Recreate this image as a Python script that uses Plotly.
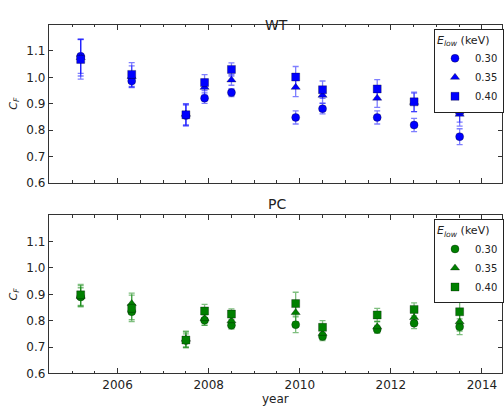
import plotly.graph_objects as go

years = [2005.19, 2006.31, 2007.50, 2007.91, 2008.50, 2009.91, 2010.50, 2011.70, 2012.51, 2013.51]

wt_030 = [1.080, 0.986, 0.855, 0.921, 0.942, 0.848, 0.881, 0.848, 0.819, 0.775]
wt_035 = [1.075, 1.003, 0.860, 0.962, 0.990, 0.962, 0.932, 0.921, 0.905, 0.860]
wt_040 = [1.068, 1.011, 0.858, 0.980, 1.030, 1.001, 0.953, 0.956, 0.907, 0.875]
wt_030_err = [0.065, 0.025, 0.040, 0.020, 0.015, 0.025, 0.020, 0.025, 0.025, 0.030]
wt_035_err = [0.070, 0.040, 0.040, 0.030, 0.020, 0.035, 0.030, 0.035, 0.035, 0.045]
wt_040_err = [0.075, 0.045, 0.040, 0.030, 0.025, 0.040, 0.033, 0.035, 0.037, 0.045]

pc_030 = [0.890, 0.834, 0.725, 0.802, 0.783, 0.785, 0.740, 0.767, 0.790, 0.777]
pc_035 = [0.893, 0.865, 0.730, 0.808, 0.800, 0.831, 0.752, 0.777, 0.812, 0.796]
pc_040 = [0.898, 0.847, 0.727, 0.837, 0.825, 0.865, 0.775, 0.822, 0.843, 0.834]
pc_030_err = [0.035, 0.030, 0.025, 0.020, 0.015, 0.030, 0.015, 0.015, 0.020, 0.030]
pc_035_err = [0.040, 0.040, 0.030, 0.025, 0.020, 0.035, 0.020, 0.020, 0.025, 0.035]
pc_040_err = [0.040, 0.050, 0.030, 0.025, 0.020, 0.043, 0.025, 0.025, 0.025, 0.040]

labels = ["0.30", "0.35", "0.40"]
symbols = ["circle", "triangle-up", "square"]

fig = go.Figure()

panels = [
    ("x", "y", "legend", "#0000ff", "rgba(0,0,255,0.5)",
     [wt_030, wt_035, wt_040], [wt_030_err, wt_035_err, wt_040_err]),
    ("x2", "y2", "legend2", "#008000", "rgba(0,128,0,0.5)",
     [pc_030, pc_035, pc_040], [pc_030_err, pc_035_err, pc_040_err]),
]

for xa, ya, lg, col, ecol, series, errs in panels:
    for lab, sym, vals, err in zip(labels, symbols, series, errs):
        fig.add_trace(go.Scatter(
            x=years, y=vals, mode="markers", name=lab,
            xaxis=xa, yaxis=ya, legend=lg,
            marker=dict(symbol=sym, size=8, color=col,
                        line=dict(color="rgba(0,0,0,0.6)", width=0.5)),
            error_y=dict(type="data", array=err, visible=True,
                         color=ecol, thickness=1.3, width=3),
        ))

font = dict(family="DejaVu Sans", size=12, color="#222222")
H = 407.0
W = 504.0

axis_common = dict(
    showline=True, linecolor="#333333", linewidth=1, mirror="ticks",
    ticks="inside", tickcolor="#333333", showgrid=False, zeroline=False,
    tickfont=font,
)

xcommon = dict(axis_common, range=[2004.49, 2014.44], dtick=2, tick0=2000, ticklen=5,
               minor=dict(dtick=0.5, tick0=2000, ticklen=2.5, ticks="inside",
                          tickcolor="#333333", showgrid=False))
ycommon = dict(axis_common, range=[0.6, 1.2], tickvals=[0.6, 0.7, 0.8, 0.9, 1.0, 1.1],
               ticktext=["0.6", "0.7", "0.8", "0.9", "1.0", "1.1"], ticklen=4)

ytitle = dict(text="<i>C<sub>F</sub></i>",
              font=dict(family="DejaVu Sans", size=11, color="#222222"), standoff=6)

legend_common = dict(
    bgcolor="white", bordercolor="#222222", borderwidth=1,
    font=dict(family="DejaVu Sans", size=10, color="#222222"),
    title=dict(text="<i>E<sub>low</sub></i> (keV)",
               font=dict(family="DejaVu Sans", size=11, color="#222222")),
    xanchor="left", yanchor="top", tracegroupgap=0, itemwidth=30,
)

fig.update_layout(
    width=504, height=407,
    margin=dict(l=0, r=0, t=0, b=0),
    paper_bgcolor="white", plot_bgcolor="white",
    showlegend=True,
    xaxis=dict(xcommon, domain=[49 / W, 1.0], anchor="y", showticklabels=False),
    yaxis=dict(ycommon, domain=[1 - 186 / H, 1 - 25 / H], anchor="x", title=ytitle),
    xaxis2=dict(xcommon, domain=[49 / W, 1.0], anchor="y2",
                title=dict(text="year", font=font, standoff=2)),
    yaxis2=dict(ycommon, domain=[1 - 380 / H, 1 - 219 / H], anchor="x2", title=ytitle),
    legend=dict(legend_common, x=436 / W, y=1 - 29 / H),
    legend2=dict(legend_common, x=436 / W, y=1 - 223 / H),
    annotations=[
        dict(text="WT", x=278 / W, y=1 - 15 / H, xref="paper", yref="paper",
             showarrow=False, font=dict(family="DejaVu Sans", size=14, color="#222222")),
        dict(text="PC", x=278 / W, y=1 - 208 / H, xref="paper", yref="paper",
             showarrow=False, font=dict(family="DejaVu Sans", size=14, color="#222222")),
    ],
)

fig.write_html("out.html")
